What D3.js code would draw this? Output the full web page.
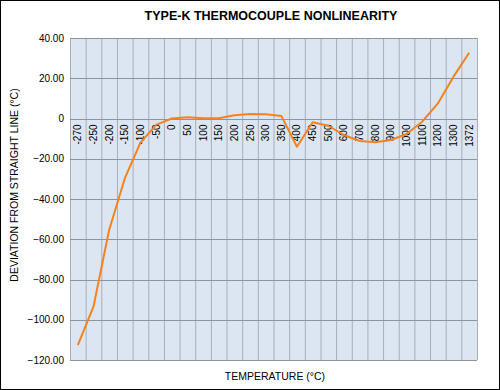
<!DOCTYPE html>
<html>
<head>
<meta charset="utf-8">
<script src="https://cdn.jsdelivr.net/npm/d3@7"></script>
<style>
  body { margin: 0; background: #fff; }
  svg { display: block; font-family: "Liberation Sans", Arial, sans-serif; }
</style>
</head>
<body>
<svg id="chart" width="500" height="390"></svg>
<script>
// Type-K thermocouple nonlinearity - deviation from straight line per temperature
const temps = ['-270', '-250', '-200', '-150', '-100', '-50', '0', '50', '100', '150', '200', '250',
  '300', '350', '400', '450', '500', '600', '700', '800', '900', '1000', '1100', '1200', '1300', '1372'];
const deviation = [-112.6, -93.5, -55.4, -29.8, -12, -3.2, 0, 0.6, 0.1, 0.1, 1.6, 2.2,
  2.1, 1.3, -14, -1.9, -3.6, -8.2, -11.2, -11.8, -10.7, -7.7, -1.6, 7.5, 20.8, 32.7];
const yTicks = [40, 20, 0, -20, -40, -60, -80, -100, -120];

const W = 500, H = 390;
const plot = { left: 70, right: 477, top: 38, bottom: 360 };

const svg = d3.select('#chart');

// outer frame
svg.append('rect')
  .attr('x', 0.5).attr('y', 0.5)
  .attr('width', W - 1).attr('height', H - 1)
  .attr('fill', '#fff').attr('stroke', '#000');

const x = d3.scaleBand().domain(temps).range([plot.left, plot.right]).padding(0);
const y = d3.scaleLinear().domain([-120, 40]).range([plot.bottom, plot.top]);

// plot background
svg.append('rect')
  .attr('x', plot.left).attr('y', plot.top)
  .attr('width', plot.right - plot.left).attr('height', plot.bottom - plot.top)
  .attr('fill', '#dce6f2');

// vertical gridlines on band edges
const edges = temps.map(t => x(t)).concat([plot.right]);
svg.append('g').selectAll('line').data(edges).join('line')
  .attr('x1', d => d + 0.5).attr('x2', d => d + 0.5)
  .attr('y1', plot.top).attr('y2', plot.bottom)
  .attr('stroke', '#a9aeb8').attr('stroke-width', 1);

// horizontal gridlines
svg.append('g').selectAll('line').data(yTicks).join('line')
  .attr('x1', plot.left).attr('x2', plot.right)
  .attr('y1', d => Math.round(y(d)) + 0.5).attr('y2', d => Math.round(y(d)) + 0.5)
  .attr('stroke', '#8e939c').attr('stroke-width', 1);

// y axis labels
svg.append('g').selectAll('text').data(yTicks).join('text')
  .attr('x', 64).attr('y', d => y(d) + 3.5)
  .attr('text-anchor', 'end')
  .attr('font-size', 10).attr('fill', '#000')
  .text(d => d === 0 ? '0' : d3.format('.2f')(d));

// x category labels, rotated, hanging just under the zero line
svg.append('g').selectAll('text').data(temps).join('text')
  .attr('transform', d => `translate(${x(d) + x.bandwidth() / 2 + 3.5},${y(0) + 6}) rotate(-90)`)
  .attr('text-anchor', 'end')
  .attr('font-size', 10).attr('fill', '#000')
  .text(d => d);

// deviation line
const line = d3.line()
  .x((d, i) => x(temps[i]) + x.bandwidth() / 2)
  .y(d => y(d));

svg.append('path')
  .datum(deviation)
  .attr('d', line)
  .attr('fill', 'none')
  .attr('stroke', '#f58220')
  .attr('stroke-width', 2)
  .attr('stroke-linejoin', 'round');

// titles
svg.append('text')
  .attr('x', 271).attr('y', 20)
  .attr('text-anchor', 'middle')
  .attr('font-size', 12.5).attr('font-weight', 'bold')
  .text('TYPE-K THERMOCOUPLE NONLINEARITY');

svg.append('text')
  .attr('transform', `translate(18,185) rotate(-90)`)
  .attr('text-anchor', 'middle')
  .attr('font-size', 10.5)
  .text('DEVIATION FROM STRAIGHT LINE (°C)');

svg.append('text')
  .attr('x', 275).attr('y', 380)
  .attr('text-anchor', 'middle')
  .attr('font-size', 10.5)
  .text('TEMPERATURE (°C)');
</script>
</body>
</html>
